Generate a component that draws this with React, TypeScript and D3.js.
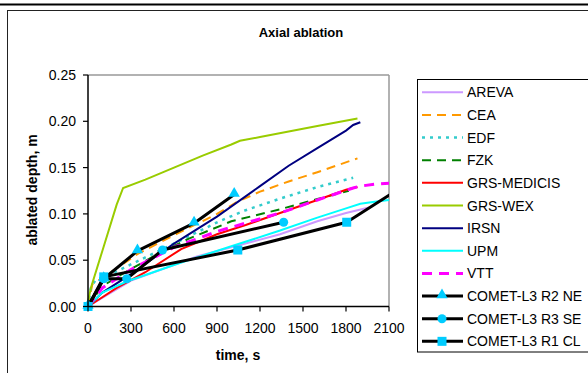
import React from "react";
import * as d3 from "d3";

const xTicks = [0, 300, 600, 900, 1200, 1500, 1800, 2100];
const yTicks = [0, 0.05, 0.1, 0.15, 0.2, 0.25];

const arevaT = [0, 300, 760, 1000, 1340, 1600, 1800, 1960];
const arevaD = [0, 0.028, 0.054, 0.064, 0.078, 0.092, 0.101, 0.107];
const ceaT = [0, 30, 100, 350, 600, 900, 1040, 1200, 1400, 1600, 1880];
const ceaD = [0, 0.024, 0.031, 0.057, 0.077, 0.1, 0.113, 0.124, 0.135, 0.145, 0.16];
const edfT = [0, 20, 50, 200, 400, 600, 930, 1100, 1350, 1600, 1850];
const edfD = [0, 0.02, 0.028, 0.038, 0.053, 0.068, 0.093, 0.104, 0.117, 0.129, 0.139];
const fzkT = [0, 100, 250, 500, 700, 1000, 1340, 1600, 1820];
const fzkD = [0, 0.022, 0.036, 0.058, 0.073, 0.092, 0.105, 0.116, 0.125];
const medicisT = [0, 100, 200, 400, 650, 900, 1100, 1340, 1600, 1800, 1880];
const medicisD = [0, 0.01, 0.02, 0.037, 0.062, 0.078, 0.088, 0.101, 0.115, 0.126, 0.129];
const wexT = [0, 20, 100, 200, 245, 400, 600, 800, 1000, 1060, 1200, 1400, 1600, 1880];
const wexD = [0.005, 0.02, 0.06, 0.11, 0.128, 0.137, 0.15, 0.163, 0.175, 0.179, 0.183, 0.189, 0.195, 0.203];
const irsnT = [0, 100, 300, 600, 900, 1200, 1400, 1600, 1800, 1850, 1900];
const irsnD = [0, 0.015, 0.035, 0.068, 0.097, 0.13, 0.152, 0.171, 0.19, 0.196, 0.199];
const upmT = [0, 100, 270, 640, 1000, 1340, 1600, 1800, 1900, 2000, 2100];
const upmD = [0, 0.015, 0.027, 0.047, 0.065, 0.082, 0.096, 0.106, 0.111, 0.113, 0.115];
const vttT = [0, 100, 300, 600, 900, 1360, 1600, 1850, 1900, 2000, 2100];
const vttD = [0, 0.02, 0.04, 0.064, 0.081, 0.102, 0.115, 0.128, 0.13, 0.132, 0.133];

const r2T = [0, 110, 345, 740, 1020];
const r2D = [0, 0.03, 0.06, 0.09, 0.121];
const r3T = [0, 110, 270, 520, 1365];
const r3D = [0, 0.03, 0.03, 0.061, 0.091];
const r1T = [0, 110, 1045, 1805, 2200];
const r1D = [0, 0.032, 0.061, 0.091, 0.13];

const models = [
  { name: "AREVA", t: arevaT, d: arevaD, color: "#CC99FF", w: 2, dash: "" },
  { name: "CEA", t: ceaT, d: ceaD, color: "#FF9900", w: 2, dash: "9,6" },
  { name: "EDF", t: edfT, d: edfD, color: "#33CCCC", w: 2.5, dash: "3,5" },
  { name: "FZK", t: fzkT, d: fzkD, color: "#008000", w: 2, dash: "9,6" },
  { name: "GRS-MEDICIS", t: medicisT, d: medicisD, color: "#FF0000", w: 2, dash: "" },
  { name: "GRS-WEX", t: wexT, d: wexD, color: "#99CC00", w: 2, dash: "" },
  { name: "IRSN", t: irsnT, d: irsnD, color: "#000080", w: 2, dash: "" },
  { name: "UPM", t: upmT, d: upmD, color: "#00FFFF", w: 2, dash: "" },
  { name: "VTT", t: vttT, d: vttD, color: "#FF00FF", w: 3, dash: "10,7" },
];

const exps = [
  { name: "COMET-L3 R2 NE", t: r2T, d: r2D, marker: "triangle" },
  { name: "COMET-L3 R3 SE", t: r3T, d: r3D, marker: "circle" },
  { name: "COMET-L3 R1 CL", t: r1T, d: r1D, marker: "square" },
];

const MARK = "#00CCFF";
const FONT = "'Liberation Sans', Arial, sans-serif";

function Marker({ kind, x, y }: { kind: string; x: number; y: number }) {
  if (kind === "circle") return <circle cx={x} cy={y} r={4.5} fill={MARK} />;
  if (kind === "square") return <rect x={x - 4.5} y={y - 4.5} width={9} height={9} fill={MARK} />;
  const s = d3.symbol().type(d3.symbolTriangle).size(55)();
  return <path d={s || ""} transform={`translate(${x},${y - 1})`} fill={MARK} />;
}

export default function App() {
  const L = 88, R = 389, T = 75, B = 306.5;
  const x = d3.scaleLinear().domain([0, 2100]).range([L, R]);
  const y = d3.scaleLinear().domain([0, 0.25]).range([B, T]);
  const line = d3
    .line<[number, number]>()
    .x((p) => x(p[0]))
    .y((p) => y(p[1]));
  const pts = (t: number[], d: number[]) => t.map((v, i) => [v, d[i]] as [number, number]);

  const legY0 = 92.3, legStep = 22.64;
  const legendItems = [...models.map((m) => ({ ...m, marker: "" })), ...exps.map((e) => ({ ...e, color: "#000", w: 3, dash: "" }))];

  return (
    <svg width={588} height={373} style={{ position: "absolute", left: 0, top: 0, background: "#fff" }} fontFamily={FONT}>
      <defs>
        <clipPath id="plotclip">
          <rect x={L - 8} y={T - 8} width={R - L + 8} height={B - T + 16} />
        </clipPath>
      </defs>
      <rect x={0} y={0} width={588} height={373} fill="#fff" />
      <line x1={0} x2={588} y1={4.5} y2={4.5} stroke="#000" strokeWidth={2} />
      <rect x={7.5} y={10.5} width={600} height={400} fill="none" stroke="#222" strokeWidth={1} />
      <text x={301} y={37} textAnchor="middle" fontSize={13} fontWeight="bold">Axial ablation</text>

      <line x1={L} x2={R} y1={T} y2={T} stroke="#999" strokeWidth={1.5} />
      <line x1={R} x2={R} y1={T} y2={B} stroke="#999" strokeWidth={1.5} />

      <g clipPath="url(#plotclip)">
        {models.map((m) => (
          <path key={m.name} d={line(pts(m.t, m.d)) || ""} fill="none" stroke={m.color} strokeWidth={m.w} strokeDasharray={m.dash} />
        ))}
        {exps.map((e) => (
          <path key={e.name} d={line(pts(e.t, e.d)) || ""} fill="none" stroke="#000" strokeWidth={3} strokeLinejoin="round" />
        ))}
        {exps.map((e) => (
          <g key={e.name + "m"}>
            {e.t.map((tv, i) => (
              <Marker key={i} kind={e.marker} x={x(tv)} y={y(e.d[i])} />
            ))}
          </g>
        ))}
      </g>

      <line x1={L} x2={L} y1={T} y2={B} stroke="#000" strokeWidth={1.5} />
      <line x1={L} x2={R} y1={B} y2={B} stroke="#000" strokeWidth={1.5} />
      {yTicks.map((v) => (
        <g key={v}>
          <line x1={L - 5} x2={L} y1={y(v)} y2={y(v)} stroke="#000" strokeWidth={1.2} />
          <text x={L - 12} y={y(v) + 5} textAnchor="end" fontSize={14}>{d3.format(".2f")(v)}</text>
        </g>
      ))}
      {xTicks.map((v) => (
        <g key={v}>
          <line x1={x(v)} x2={x(v)} y1={B} y2={B + 5} stroke="#000" strokeWidth={1.2} />
          <text x={x(v)} y={333} textAnchor="middle" fontSize={14}>{v}</text>
        </g>
      ))}
      <text x={238} y={360} textAnchor="middle" fontSize={14} fontWeight="bold">time, s</text>
      <text transform={`translate(37,190) rotate(-90)`} textAnchor="middle" fontSize={14} fontWeight="bold">ablated depth, m</text>

      <rect x={417.5} y={79.5} width={200} height={272.5} fill="#fff" stroke="#000" strokeWidth={1} />
      {legendItems.map((it, i) => {
        const cy = legY0 + i * legStep;
        return (
          <g key={it.name}>
            <line x1={422} x2={463} y1={cy} y2={cy} stroke={it.color} strokeWidth={it.w} strokeDasharray={it.dash} />
            {it.marker ? <Marker kind={it.marker} x={442} y={cy} /> : null}
            <text x={467} y={cy + 5} fontSize={14}>{it.name}</text>
          </g>
        );
      })}
    </svg>
  );
}
